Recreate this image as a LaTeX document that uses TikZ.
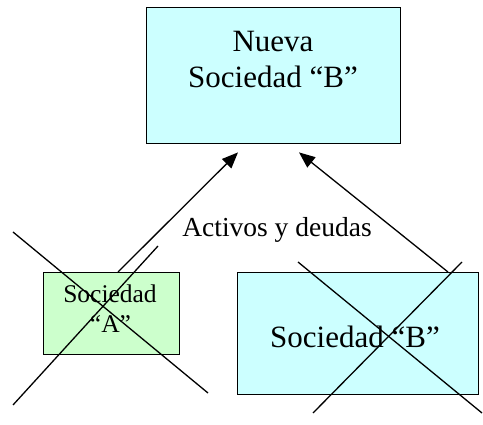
\documentclass[tikz,border=0pt]{standalone}
\usepackage{fontspec}
\setmainfont{Liberation Serif}
\usetikzlibrary{arrows.meta}
\definecolor{cyanfill}{HTML}{CCFFFF}
\definecolor{greenfill}{HTML}{CCFFCC}
\begin{document}
\begin{tikzpicture}[x=1pt,y=-1pt,
  box/.style={draw=black,line width=1.4pt,inner sep=0pt,anchor=north west},
  big/.style={font=\fontsize{31}{36}\selectfont,inner sep=0pt,anchor=base},
  small/.style={font=\fontsize{25.5}{30}\selectfont,inner sep=0pt,anchor=base},
  lbl/.style={font=\fontsize{27.5}{30}\selectfont,inner sep=0pt,anchor=base},
  conn/.style={line width=1.3pt,-{Triangle[length=16pt,width=13pt]}},
  cross/.style={line width=1.3pt}]
\useasboundingbox (0,0) rectangle (483,425);
% boxes
\node[box,fill=cyanfill,minimum width=254pt,minimum height=136pt] (top) at (146,7) {};
\node[box,fill=greenfill,minimum width=136pt,minimum height=82pt] (lbox) at (43,272) {};
\node[box,fill=cyanfill,minimum width=241pt,minimum height=122pt] (rbox) at (237,272) {};
% texts
\node[big] (t1) at (273,52) {Nueva};
\node[big] (t2) at (273,88) {Sociedad “B”};
\node[small] (a1) at (110,303) {Sociedad};
\node[small] (a2) at (110.5,333) {“A”};
\node[big] (b1) at (355,348) {Sociedad “B”};
% connectors
\draw[conn] ([xshift=75pt]lbox.north west) -- ([xshift=92pt,yshift=-8pt]top.south west);
\draw[conn] ([xshift=211pt]rbox.north west) -- ([xshift=153pt,yshift=-8pt]top.south west);
\node[lbl] (act) at (277,237) {Activos y deudas};
% crosses
\draw[cross] (13,232) -- (208,393);
\draw[cross] (13,405) -- (158,246);
\draw[cross] (298,262) -- (482,413);
\draw[cross] (462,262) -- (313,413);
\end{tikzpicture}
\end{document}
